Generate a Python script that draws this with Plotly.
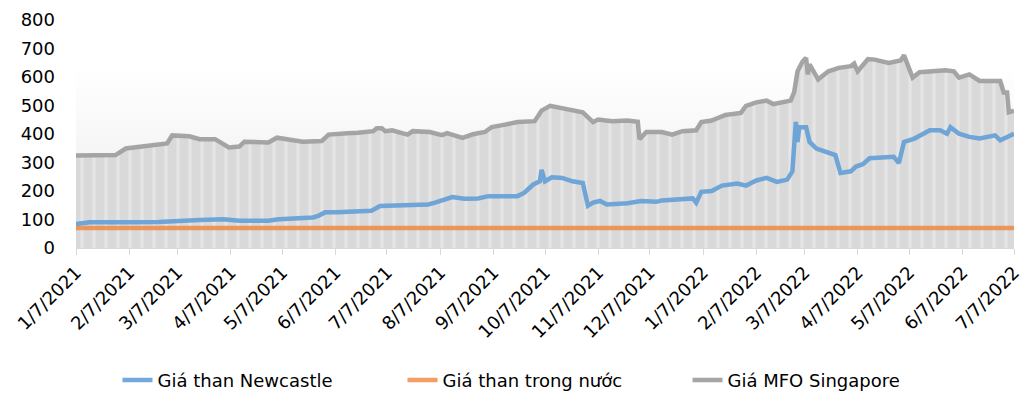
import plotly.graph_objects as go

# Giá MFO Singapore
mfo_dates = [
    "2021-01-07", "2021-01-30", "2021-02-05", "2021-02-19", "2021-03-01", "2021-03-04",
    "2021-03-14", "2021-03-20", "2021-03-29", "2021-04-06", "2021-04-12", "2021-04-15",
    "2021-04-29", "2021-05-04", "2021-05-16", "2021-05-19", "2021-05-30", "2021-06-03",
    "2021-06-14", "2021-06-20", "2021-06-29", "2021-07-01", "2021-07-04", "2021-07-06",
    "2021-07-10", "2021-07-19", "2021-07-22", "2021-08-01", "2021-08-08", "2021-08-11",
    "2021-08-20", "2021-08-26", "2021-09-02", "2021-09-06", "2021-09-13", "2021-09-21",
    "2021-10-01", "2021-10-05", "2021-10-10", "2021-10-14", "2021-10-23", "2021-10-29",
    "2021-11-04", "2021-11-07", "2021-11-15", "2021-11-24", "2021-11-30", "2021-12-01",
    "2021-12-05", "2021-12-14", "2021-12-20", "2021-12-26", "2022-01-03", "2022-01-06",
    "2022-01-12", "2022-01-20", "2022-01-29", "2022-02-01", "2022-02-07", "2022-02-13",
    "2022-02-17", "2022-02-23", "2022-02-27", "2022-03-01", "2022-03-03", "2022-03-06",
    "2022-03-08", "2022-03-09", "2022-03-10", "2022-03-15", "2022-03-21", "2022-03-27",
    "2022-04-03", "2022-04-05", "2022-04-07", "2022-04-13", "2022-04-17", "2022-04-25",
    "2022-05-02", "2022-05-04", "2022-05-06", "2022-05-09", "2022-05-13", "2022-05-19",
    "2022-05-28", "2022-06-02", "2022-06-05", "2022-06-11", "2022-06-17", "2022-06-29",
    "2022-07-01", "2022-07-03", "2022-07-04", "2022-07-07",
]
mfo_values = [
    325, 326, 349, 360, 367, 395,
    392, 382, 382, 353, 356, 373,
    370, 387, 378, 373, 375, 398,
    403, 404, 410, 420, 420, 410,
    413, 398, 410, 407, 396, 403,
    386, 399, 407, 424, 432, 442,
    445, 482, 499, 494, 486, 476,
    442, 451, 445, 447, 443, 382,
    407, 407, 398, 410, 413, 442,
    447, 467, 474, 499, 511, 517,
    505, 511, 517, 546, 620, 655,
    667, 609, 644, 592, 620, 632,
    638, 647, 620, 663, 661, 649,
    658, 676, 644, 598, 617, 620,
    624, 620, 598, 609, 586, 586,
    546, 546, 476, 482,
]

# Giá than Newcastle
ncl_dates = [
    "2021-01-07", "2021-01-15", "2021-02-07", "2021-02-24", "2021-03-20", "2021-04-03",
    "2021-04-12", "2021-04-29", "2021-05-05", "2021-05-16", "2021-05-25", "2021-05-28",
    "2021-06-01", "2021-06-08", "2021-06-20", "2021-06-28", "2021-07-03", "2021-07-13",
    "2021-07-19", "2021-07-31", "2021-08-04", "2021-08-09", "2021-08-14", "2021-08-21",
    "2021-08-29", "2021-09-04", "2021-09-13", "2021-09-21", "2021-09-25", "2021-09-30",
    "2021-10-04", "2021-10-05", "2021-10-07", "2021-10-11", "2021-10-17", "2021-10-23",
    "2021-10-29", "2021-11-01", "2021-11-04", "2021-11-08", "2021-11-12", "2021-11-24",
    "2021-12-02", "2021-12-11", "2021-12-14", "2021-12-28", "2022-01-01", "2022-01-03",
    "2022-01-06", "2022-01-12", "2022-01-18", "2022-01-27", "2022-02-01", "2022-02-07",
    "2022-02-13", "2022-02-19", "2022-02-25", "2022-02-28", "2022-03-01", "2022-03-02",
    "2022-03-03", "2022-03-04", "2022-03-08", "2022-03-10", "2022-03-14", "2022-03-22",
    "2022-03-25", "2022-03-28", "2022-04-03", "2022-04-06", "2022-04-10", "2022-04-14",
    "2022-04-20", "2022-04-28", "2022-05-01", "2022-05-04", "2022-05-10", "2022-05-19",
    "2022-05-25", "2022-05-29", "2022-05-31", "2022-06-05", "2022-06-11", "2022-06-17",
    "2022-06-26", "2022-06-29", "2022-07-07",
]
ncl_values = [
    84, 90, 90, 91, 98, 101,
    96, 96, 101, 103, 107, 113,
    125, 125, 130, 131, 147, 150,
    153, 153, 159, 171, 179, 173,
    174, 182, 182, 182, 194, 222,
    234, 274, 234, 248, 246, 234,
    228, 148, 159, 165, 153, 157,
    165, 162, 167, 174, 174, 159,
    197, 200, 219, 226, 219, 237,
    246, 232, 240, 269, 338, 442,
    372, 424, 424, 372, 349, 332,
    326, 263, 269, 286, 294, 315,
    318, 320, 298, 372, 384, 413,
    413, 401, 424, 401, 390, 384,
    395, 378, 401,
]

# Giá than trong nước
dom_dates = [
    "2021-01-07", "2021-04-07", "2021-07-07", "2021-10-07",
    "2022-01-07", "2022-04-07", "2022-07-07",
]
dom_values = [70, 70, 70, 70, 70, 70, 70]

# Axis ticks
tick_dates = [
    "2021-01-07", "2021-02-07", "2021-03-07", "2021-04-07", "2021-05-07", "2021-06-07",
    "2021-07-07", "2021-08-07", "2021-09-07", "2021-10-07", "2021-11-07", "2021-12-07",
    "2022-01-07", "2022-02-07", "2022-03-07", "2022-04-07", "2022-05-07", "2022-06-07",
    "2022-07-07",
]
tick_labels = [
    "1/7/2021", "2/7/2021", "3/7/2021", "4/7/2021", "5/7/2021", "6/7/2021",
    "7/7/2021", "8/7/2021", "9/7/2021", "10/7/2021", "11/7/2021", "12/7/2021",
    "1/7/2022", "2/7/2022", "3/7/2022", "4/7/2022", "5/7/2022", "6/7/2022",
    "7/7/2022",
]
y_ticks = [0, 100, 200, 300, 400, 500, 600, 700, 800]

x_range = [tick_dates[0], tick_dates[-1]]
y_range = [y_ticks[0], y_ticks[-1]]

FONT = "DejaVu Sans"

fig = go.Figure()

# soft vertical gradient behind everything in the plot area
fig.add_trace(go.Scatter(
    x=x_range, y=[y_range[1], y_range[1]],
    mode="lines", line=dict(width=0), fill="tozeroy",
    fillgradient=dict(
        type="vertical", start=y_range[0], stop=y_range[1],
        colorscale=[[0, "#ebebeb"], [0.45, "#f6f6f6"], [0.8, "#ffffff"], [1, "#ffffff"]],
    ),
    hoverinfo="skip", showlegend=False,
))

# striped grey area under the MFO line (one stripe per week)
fig.add_trace(go.Scatter(
    x=mfo_dates, y=mfo_values,
    mode="lines", line=dict(width=0), fill="tozeroy",
    fillcolor="#d9d9d9",
    fillpattern=dict(shape="|", bgcolor="#d9d9d9", fgcolor="#f2f2f2",
                     size=12, solidity=0.25),
    hoverinfo="skip", showlegend=False,
))

fig.add_trace(go.Scatter(
    x=ncl_dates, y=ncl_values, name="Giá than Newcastle",
    mode="lines", line=dict(color="rgba(91,155,213,0.85)", width=4.5),
))
fig.add_trace(go.Scatter(
    x=dom_dates, y=dom_values, name="Giá than trong nước",
    mode="lines", line=dict(color="rgba(237,125,49,0.75)", width=4.5),
))
fig.add_trace(go.Scatter(
    x=mfo_dates, y=mfo_values, name="Giá MFO Singapore",
    mode="lines", line=dict(color="rgba(160,160,160,0.95)", width=4.5),
))

fig.update_layout(
    width=1022, height=406,
    margin=dict(l=76, r=8, t=20, b=155),
    paper_bgcolor="white", plot_bgcolor="white",
    font=dict(family=FONT, size=18, color="#000000"),
    showlegend=True,
    legend=dict(
        orientation="h", x=0.5, xanchor="center", y=-0.58, yanchor="middle",
        font=dict(family=FONT, size=18, color="#000000"),
        entrywidth=240, entrywidthmode="pixels",
        itemwidth=30, tracegroupgap=0,
    ),
    xaxis=dict(
        type="date", range=x_range, automargin=False,
        tickvals=tick_dates, ticktext=tick_labels, tickangle=-45,
        ticklabeloverflow="allow",
        showgrid=False, zeroline=False,
        showline=True, linecolor="#d9d9d9", linewidth=1,
        ticks="outside", ticklen=6, tickcolor="#d9d9d9",
        tickfont=dict(family=FONT, size=18),
    ),
    yaxis=dict(
        range=y_range, tickvals=y_ticks, automargin=False,
        showgrid=False, zeroline=False, showline=False,
        ticks="", ticklabelstandoff=20,
        tickfont=dict(family=FONT, size=18),
    ),
)

fig.write_html("out.html")
